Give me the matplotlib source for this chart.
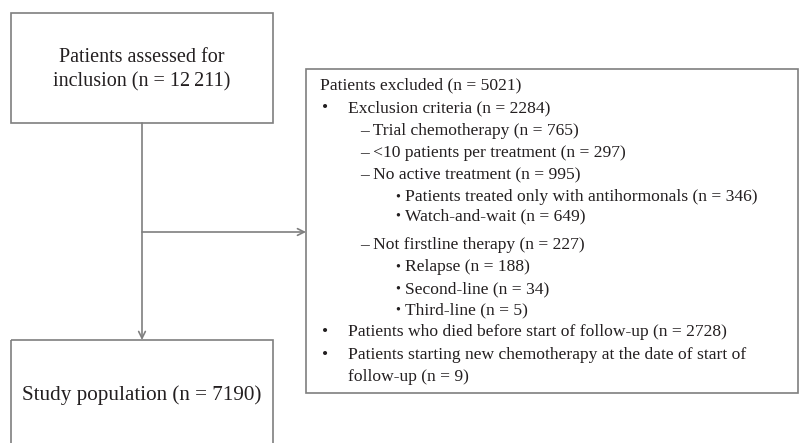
import matplotlib
matplotlib.use('Agg')
import matplotlib.pyplot as plt
from matplotlib.patches import Rectangle

# flowchart contents
top_label = ["Patients assessed for", "inclusion (n = 12\u2009211)"]
bottom_label = "Study population (n = 7190)"
excluded_title = "Patients excluded (n = 5021)"

# (indent level, text) for the exclusion box
excl_levels = [1, 2, 2, 2, 3, 3, 2, 3, 3, 3, 1, 1, 0]
excl_texts = [
    "Exclusion criteria (n = 2284)",
    "\u2013 Trial chemotherapy (n = 765)",
    "\u2013 <10 patients per treatment (n = 297)",
    "\u2013 No active treatment (n = 995)",
    "Patients treated only with antihormonals (n = 346)",
    "Watch-and-wait (n = 649)",
    "\u2013 Not firstline therapy (n = 227)",
    "Relapse (n = 188)",
    "Second-line (n = 34)",
    "Third-line (n = 5)",
    "Patients who died before start of follow-up (n = 2728)",
    "Patients starting new chemotherapy at the date of start of",
    "follow-up (n = 9)",
]
excl_y = [108, 131, 153, 175, 197, 216, 245, 267, 289, 310, 332, 355, 377]

plt.rcParams['font.family'] = ['Liberation Serif', 'DejaVu Serif']
line_col = '#7f7f7f'
txt_col = '#231f20'

fig = plt.figure(figsize=(8, 4.43), dpi=100)
ax = fig.add_axes([0, 0, 1, 1])
ax.set_xlim(0, 800)
ax.set_ylim(443, 0)
ax.axis('off')

# boxes
ax.add_patch(Rectangle((10.5, 13), 262, 110, fill=False, ec=line_col, lw=1.2))
ax.add_patch(Rectangle((10.5, 340), 262, 120, fill=False, ec=line_col, lw=1.2, clip_on=True))
ax.add_patch(Rectangle((306, 69), 492, 324, fill=False, ec=line_col, lw=1.2))

# connectors
ax.annotate("", xy=(142, 340), xytext=(142, 123),
            arrowprops=dict(arrowstyle='->', color=line_col, lw=1.2,
                            mutation_scale=12, shrinkA=0, shrinkB=0))
ax.annotate("", xy=(306, 232), xytext=(142, 232),
            arrowprops=dict(arrowstyle='->', color=line_col, lw=1.2,
                            mutation_scale=12, shrinkA=0, shrinkB=0))

# top / bottom box text
ax.text(142, 57, top_label[0], ha='center', va='center', fontsize=14.5, color=txt_col)
ax.text(142, 82, top_label[1], ha='center', va='center', fontsize=14.5, color=txt_col)
ax.text(142, 395, bottom_label, ha='center', va='center', fontsize=15.2, color=txt_col)

# exclusion box text
fs = 12.6
ax.text(320, 85, excluded_title, ha='left', va='center', fontsize=fs, color=txt_col)
for lvl, t, y in zip(excl_levels, excl_texts, excl_y):
    if lvl == 1:
        ax.text(322, y, "\u2022", ha='left', va='center', fontsize=fs, color=txt_col)
        ax.text(348, y, t, ha='left', va='center', fontsize=fs, color=txt_col)
    elif lvl == 2:
        ax.text(360, y, t, ha='left', va='center', fontsize=fs, color=txt_col)
    elif lvl == 3:
        ax.text(395, y, "\u2022", ha='left', va='center', fontsize=fs * 0.8, color=txt_col)
        ax.text(405, y, t, ha='left', va='center', fontsize=fs, color=txt_col)
    else:
        ax.text(348, y, t, ha='left', va='center', fontsize=fs, color=txt_col)

fig.savefig("out.png", dpi=100)
plt.close(fig)
